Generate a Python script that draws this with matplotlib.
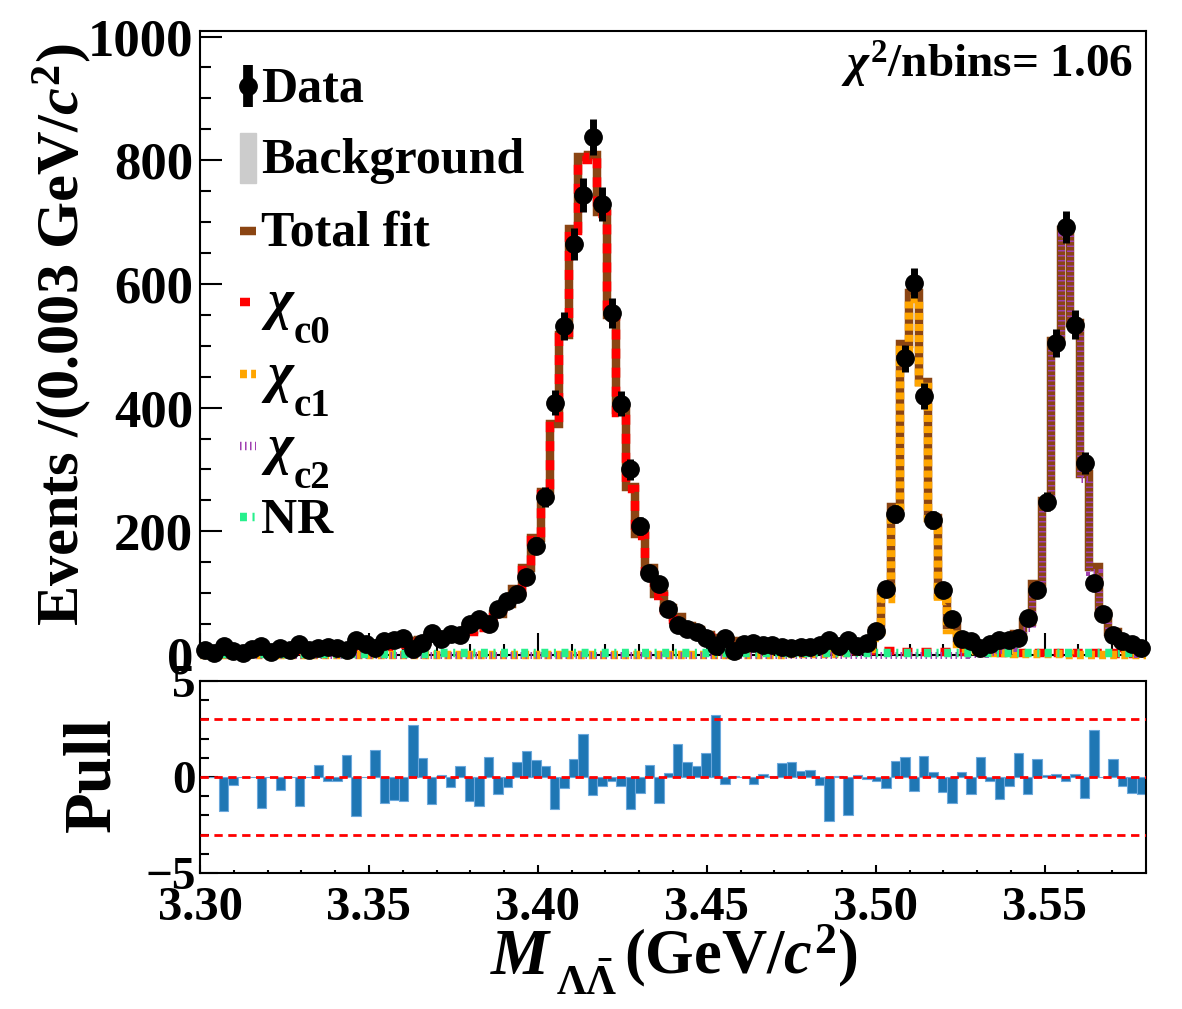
import numpy as np
import matplotlib
matplotlib.use('Agg')
import matplotlib.pyplot as plt
from matplotlib.ticker import MultipleLocator, FixedLocator, FormatStrFormatter
from matplotlib.patches import Rectangle

plt.rcParams['font.family'] = ['Liberation Serif', 'DejaVu Serif']
plt.rcParams['font.weight'] = 'bold'
plt.rcParams['mathtext.fontset'] = 'custom'
plt.rcParams['mathtext.rm'] = 'Liberation Serif:bold'
plt.rcParams['mathtext.it'] = 'Liberation Serif:italic:bold'
plt.rcParams['mathtext.bf'] = 'Liberation Serif:bold'
plt.rcParams['lines.scale_dashes'] = False
plt.rcParams['axes.unicode_minus'] = True

# ---------------- data ----------------
x_lo, x_hi, n_bins = 3.30, 3.58, 100

data_counts = [8, 4, 15, 7, 4, 10, 15, 5, 11, 8,
               17, 8, 11, 13, 12, 8, 24, 17, 11, 23,
               24, 27, 9, 20, 35, 26, 34, 32, 50, 59,
               50, 74, 88, 98, 126, 177, 255, 408, 532, 665,
               744, 837, 729, 553, 406, 300, 208, 133, 114, 74,
               49, 42, 37, 27, 15, 27, 7, 18, 20, 16,
               16, 13, 12, 13, 13, 16, 25, 14, 24, 15,
               20, 39, 106, 228, 480, 602, 419, 218, 105, 59,
               26, 23, 12, 17, 25, 24, 28, 60, 105, 248,
               504, 692, 534, 311, 116, 66, 32, 23, 17, 12]

total_fit = [6, 6, 7, 7, 7, 8, 8, 8.5, 9, 9.5,
             10.5, 11, 12, 12, 12.5, 13, 14, 15, 16, 17,
             18.5, 20, 22, 24, 27, 29, 32, 36, 41, 48,
             57, 66, 83, 106, 141, 189, 264, 374, 518, 689,
             805, 809, 717, 549, 396, 272, 196, 140, 99, 76,
             61, 47, 40, 33, 27, 25, 22.5, 20.5, 18.5, 17,
             16, 15.5, 15, 14.5, 14, 14, 14, 14.5, 15, 17,
             20, 38, 100, 240, 503, 585, 442, 222, 97, 49,
             27, 18.6, 15.6, 16.5, 19, 21.6, 34.5, 53, 115, 249,
             507, 687, 537, 292, 142, 66, 37, 21, 13.4, 8.9]

chic0 = [2.8, 2.8, 3.8, 3.7, 3.7, 4.7, 4.7, 5.1, 5.6, 6.1,
         7.1, 7.6, 8.5, 8.5, 9.0, 9.5, 10.5, 11.5, 12.4, 13.4,
         14.9, 16.4, 18.4, 20.4, 23.4, 25.3, 28.3, 32.3, 37.3, 44.3,
         53.2, 62.2, 79.2, 102.2, 137.2, 185.2, 260.2, 370.1, 514.1, 685.1,
         801.1, 805.1, 713.1, 545.1, 392.1, 268.1, 192.1, 136.1, 95.1, 72.1,
         56.9, 42.9, 35.9, 28.9, 22.8, 20.8, 18.3, 16.2, 14.2, 12.6,
         11.6, 10.9, 10.2, 9.6, 9.0, 8.5, 8.0, 7.6, 7.2, 6.8,
         6.4, 6.2, 6.0, 5.7, 5.5, 5.3, 5.1, 4.9, 4.7, 4.5,
         4.3, 4.1, 4.0, 3.8, 3.7, 3.6, 3.5, 3.4, 3.3, 3.2,
         3.1, 3.0, 2.9, 2.8, 2.7, 2.6, 2.5, 2.4, 2.3, 2.2]

chic1 = [0.1, 0.1, 0.1, 0.1, 0.1, 0.1, 0.1, 0.1, 0.1, 0.1,
         0.1, 0.1, 0.1, 0.1, 0.1, 0.1, 0.1, 0.1, 0.1, 0.1,
         0.1, 0.1, 0.1, 0.1, 0.1, 0.1, 0.1, 0.1, 0.1, 0.1,
         0.2, 0.2, 0.2, 0.2, 0.2, 0.2, 0.2, 0.2, 0.2, 0.2,
         0.2, 0.2, 0.2, 0.2, 0.2, 0.2, 0.2, 0.2, 0.2, 0.2,
         0.3, 0.3, 0.3, 0.3, 0.4, 0.4, 0.4, 0.5, 0.5, 0.6,
         0.6, 0.8, 0.9, 1.0, 1.1, 1.6, 2.1, 3.0, 3.9, 6.3,
         9.6, 27.7, 89.9, 230.2, 493.4, 575.5, 432.6, 212.8, 87.9, 40.0,
         18.1, 9.7, 6.5, 4.5, 3.3, 2.6, 2.1, 1.7, 1.4, 1.2,
         1.0, 0.9, 0.8, 0.7, 0.6, 0.5, 0.5, 0.4, 0.4, 0.3]

chic2 = [0.1, 0.1, 0.1, 0.1, 0.1, 0.1, 0.1, 0.1, 0.1, 0.1,
         0.1, 0.1, 0.1, 0.1, 0.1, 0.1, 0.1, 0.1, 0.1, 0.1,
         0.1, 0.1, 0.1, 0.1, 0.1, 0.1, 0.1, 0.1, 0.1, 0.1,
         0.1, 0.1, 0.1, 0.1, 0.1, 0.1, 0.1, 0.1, 0.1, 0.1,
         0.1, 0.1, 0.1, 0.1, 0.1, 0.1, 0.1, 0.1, 0.1, 0.1,
         0.2, 0.2, 0.2, 0.2, 0.2, 0.2, 0.2, 0.2, 0.2, 0.2,
         0.2, 0.2, 0.2, 0.2, 0.2, 0.2, 0.2, 0.2, 0.2, 0.2,
         0.3, 0.4, 0.4, 0.4, 0.4, 0.4, 0.5, 0.5, 0.6, 0.7,
         0.8, 1.0, 1.3, 4.4, 8.1, 11.5, 25.0, 44.0, 106.4, 240.7,
         499.0, 679.2, 529.4, 284.5, 134.7, 58.9, 30.0, 14.2, 6.7, 2.4]

nr_comp = [2.0, 2.0, 2.0, 2.1, 2.1, 2.1, 2.1, 2.2, 2.2, 2.2,
           2.2, 2.2, 2.3, 2.3, 2.3, 2.3, 2.3, 2.3, 2.4, 2.4,
           2.4, 2.4, 2.4, 2.4, 2.4, 2.5, 2.5, 2.5, 2.5, 2.5,
           2.5, 2.5, 2.5, 2.5, 2.5, 2.5, 2.5, 2.6, 2.6, 2.6,
           2.6, 2.6, 2.6, 2.6, 2.6, 2.6, 2.6, 2.6, 2.6, 2.6,
           2.6, 2.6, 2.6, 2.6, 2.6, 2.6, 2.6, 2.6, 2.6, 2.6,
           2.6, 2.6, 2.7, 2.7, 2.7, 2.7, 2.7, 2.7, 2.7, 2.7,
           2.7, 2.7, 2.7, 2.7, 2.7, 2.8, 2.8, 2.8, 2.8, 2.8,
           2.8, 2.8, 2.8, 2.8, 2.9, 2.9, 2.9, 2.9, 2.9, 2.9,
           2.9, 2.9, 2.9, 3.0, 3.0, 3.0, 3.0, 3.0, 3.0, 3.0]

background = [0.9, 0.9, 0.9, 0.9, 0.9, 0.9, 0.9, 0.9, 0.9, 0.9,
              0.9, 0.9, 0.9, 0.9, 0.9, 1.0, 1.0, 1.0, 1.0, 1.0,
              1.0, 1.0, 1.0, 1.0, 1.0, 1.0, 1.0, 1.0, 1.0, 1.0,
              1.0, 1.0, 1.0, 1.0, 1.0, 1.0, 1.0, 1.0, 1.0, 1.0,
              1.0, 1.0, 1.0, 1.0, 1.0, 1.0, 1.0, 1.0, 1.0, 1.0,
              1.0, 1.0, 1.0, 1.0, 1.0, 1.0, 1.0, 1.0, 1.0, 1.0,
              1.0, 1.0, 1.0, 1.0, 1.0, 1.0, 1.0, 1.0, 1.0, 1.0,
              1.0, 1.0, 1.0, 1.0, 1.0, 1.0, 1.0, 1.0, 1.0, 1.0,
              1.0, 1.0, 1.0, 1.0, 1.0, 1.1, 1.1, 1.1, 1.1, 1.1,
              1.1, 1.1, 1.1, 1.1, 1.1, 1.1, 1.1, 1.1, 1.1, 1.1]

pulls = [0.0, 0.0, -1.76, -0.42, 0.0, 0.0, -1.63, 0.0, -0.68, 0.0,
         -1.51, 0.0, 0.61, -0.19, -0.19, 1.13, -2.02, 0.0, 1.39, -1.37,
         -1.18, -1.27, 2.73, 0.99, -1.41, 0.09, -0.50, 0.56, -1.25, -1.50,
         1.04, -0.89, -0.52, 0.80, 1.36, 0.89, 0.56, -1.69, -0.59, 0.94,
         2.24, -0.96, -0.45, -0.19, -0.49, -1.69, -0.85, 0.64, -1.34, 0.23,
         1.74, 0.78, 0.56, 1.25, 3.23, -0.38, 0.05, 0.0, -0.38, 0.14,
         0.07, 0.73, 0.78, 0.31, 0.37, -0.42, -2.30, 0.05, -1.97, 0.12,
         -0.10, -0.23, -0.56, 0.82, 1.03, -0.71, 1.10, 0.28, -0.77, -1.34,
         0.24, -0.87, 1.06, -0.19, -1.16, -0.49, 1.23, -0.89, 0.96, 0.09,
         0.14, -0.19, 0.14, -1.08, 2.45, 0.0, 0.92, -0.45, -0.85, -0.90]

pull_ref_levels = [-3, 0, 3]
chi2_text = r'$\chi^{2}$/nbins= 1.06'
legend_sub_labels = ['c0', 'c1', 'c2']

# ---------------- figure ----------------
W, H = 1182, 1009
fig = plt.figure(figsize=(W / 100, H / 100), dpi=100)


def fx(px):
    return px / W


def fy(py):
    return 1 - py / H


ax = fig.add_axes([fx(200), fy(655), fx(1146) - fx(200), fy(31) - fy(655)])
axp = fig.add_axes([fx(200), fy(873), fx(1146) - fx(200), fy(681) - fy(873)])

edges = np.linspace(x_lo, x_hi, n_bins + 1)
centers = 0.5 * (edges[:-1] + edges[1:])

BROWN = '#8B4513'
RED = '#FF0000'
ORANGE = '#FFA500'
PURPLE = '#A040B0'
GREEN = '#26F08C'
GRAY = '#CCCCCC'
LW = 6.1
DASH_C0 = (0, (7.2, 6.5))
DASH_C1 = (0, (5.0, 3.0))
DASH_C2 = (0, (1.1, 2.5))
DASH_NR = (0, (5.0, 4.0, 1.5, 4.0))

ax.stairs(background, edges, fill=True, color=GRAY, zorder=2)
ax.stairs(total_fit, edges, baseline=None, color=BROWN, lw=LW, zorder=3, clip_on=False)
ax.stairs(chic0, edges, baseline=None, color=RED, lw=LW, linestyle=DASH_C0, zorder=4, clip_on=False)
ax.stairs(chic1, edges, baseline=None, color=ORANGE, lw=LW, linestyle=DASH_C1, zorder=4, clip_on=False)
ax.stairs(chic2, edges, baseline=None, color=PURPLE, lw=5.0, linestyle=DASH_C2, zorder=4, clip_on=False)
ax.stairs(nr_comp, edges, baseline=None, color=GREEN, lw=LW, linestyle=DASH_NR, zorder=4, clip_on=False)

eb = ax.errorbar(centers, data_counts, yerr=np.sqrt(data_counts), fmt='o', color='black',
                 ms=12.5, elinewidth=5.0, capsize=0, zorder=6)
eb[0].set_clip_on(False)
for c in eb[2]:
    c.set_clip_on(False)

ax.set_xlim(x_lo, x_hi)
ax.set_ylim(0, 1009)
ax.xaxis.set_major_locator(MultipleLocator(0.05))
ax.xaxis.set_minor_locator(MultipleLocator(0.01))
ax.yaxis.set_major_locator(MultipleLocator(200))
ax.yaxis.set_minor_locator(MultipleLocator(50))
ax.tick_params(which='both', direction='in', top=False, right=False, labelbottom=False, width=1.5)
ax.tick_params(which='major', length=16)
ax.tick_params(which='minor', length=8)
ax.tick_params(axis='y', labelsize=38, pad=5)
for s in ax.spines.values():
    s.set_linewidth(1.5)

tr = fig.transFigure

# chi2 text
ax.text(fx(1133), fy(78), chi2_text, transform=tr, ha='right', va='baseline', fontsize=34)

# legend (manual)
LFS = 36
tx = fx(261)
hx0, hx1 = fx(240), fx(256)
# Data
ax.plot([fx(248), fx(248)], [fy(65), fy(107)], color='black', lw=7, transform=tr, clip_on=False, solid_capstyle='butt')
ax.plot([fx(248)], [fy(86)], 'o', color='black', ms=12.5, transform=tr, clip_on=False)
ax.text(tx, fy(102), 'Data', transform=tr, fontsize=LFS, va='baseline', ha='left')
# Background
ax.add_patch(Rectangle((hx0, fy(183)), hx1 - hx0, fy(133) - fy(183), transform=tr, color=GRAY, clip_on=False))
ax.text(tx, fy(173), 'Background', transform=tr, fontsize=LFS, va='baseline', ha='left')
# Total fit
ax.plot([hx0, hx1], [fy(231), fy(231)], color=BROWN, lw=LW, transform=tr, clip_on=False, solid_capstyle='butt')
ax.text(tx, fy(245), 'Total fit', transform=tr, fontsize=LFS, va='baseline', ha='left')
# chi_cJ entries
for (hy, base, col, ls, lw_, sub) in [(302, 318, RED, DASH_C0, LW, legend_sub_labels[0]),
                                      (374, 391, ORANGE, DASH_C1, LW, legend_sub_labels[1]),
                                      (446, 463, PURPLE, DASH_C2, LW, legend_sub_labels[2])]:
    ax.plot([hx0, hx1], [fy(hy), fy(hy)], color=col, lw=lw_, linestyle=ls, transform=tr,
            clip_on=False, dash_capstyle='butt')
    ax.text(tx, fy(base), r'$\chi$', transform=tr, fontsize=40, va='baseline', ha='left')
    ax.text(fx(294), fy(base + 25), sub, transform=tr, fontsize=28, va='baseline', ha='left')
# NR
ax.plot([hx0, hx1], [fy(517), fy(517)], color=GREEN, lw=LW, linestyle=DASH_NR, transform=tr, clip_on=False, dash_capstyle='butt')
ax.text(tx, fy(533), 'NR', transform=tr, fontsize=LFS, va='baseline', ha='left')

# ---------------- pull panel ----------------
axp.bar(centers, pulls, width=edges[1] - edges[0], color='#1F77B4', edgecolor='#6BA8DC',
        linewidth=0.8, zorder=2)
for lv in pull_ref_levels:
    axp.axhline(lv, color=RED, lw=2.0, linestyle=(0, (6.0, 4.0)), zorder=3)
axp.set_xlim(x_lo, x_hi)
axp.set_ylim(-5, 5)
axp.xaxis.set_major_locator(MultipleLocator(0.05))
axp.xaxis.set_minor_locator(MultipleLocator(0.01))
axp.xaxis.set_major_formatter(FormatStrFormatter('%.2f'))
axp.yaxis.set_major_locator(FixedLocator([-5, 0, 5]))
axp.yaxis.set_minor_locator(MultipleLocator(1))
axp.tick_params(which='both', direction='in', top=False, right=False, width=1.5)
axp.tick_params(axis='x', which='major', length=6, labelsize=35, pad=9)
axp.tick_params(axis='x', which='minor', length=2.5)
axp.tick_params(axis='y', which='major', length=13, labelsize=34, pad=3)
axp.tick_params(axis='y', which='minor', length=6.5)
for s in axp.spines.values():
    s.set_linewidth(1.5)

# axis labels
fig.text(fx(62), fy(335), 'Events /(0.003 GeV/$c^{2}$)', rotation=90, ha='center', va='center', fontsize=43.5)
fig.text(fx(93), fy(775), 'Pull', rotation=90, ha='center', va='center', fontsize=48)
fig.text(fx(553), fy(974), r'$M$', ha='right', va='baseline', fontsize=47)
fig.text(fx(556), fy(995), r'$\Lambda\bar{\Lambda}$', ha='left', va='baseline', fontsize=30)
fig.text(fx(624), fy(973), r'(GeV/$c^{2}$)', ha='left', va='baseline', fontsize=45)

fig.savefig('out.png', dpi=100)
